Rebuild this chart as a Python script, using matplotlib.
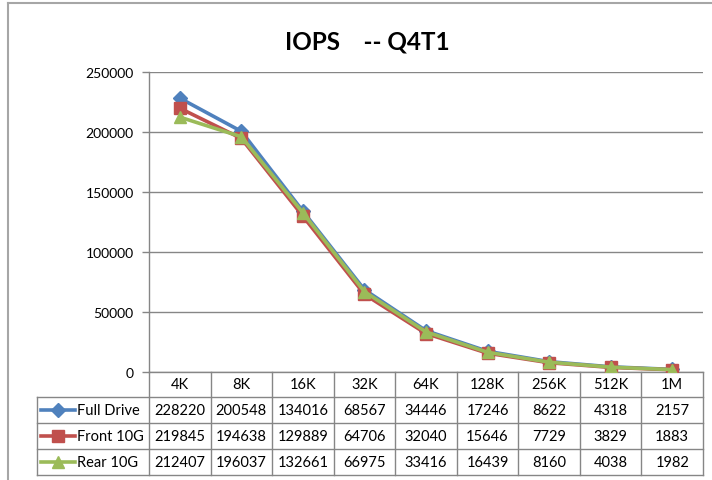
import matplotlib
matplotlib.use('Agg')
import matplotlib.pyplot as plt
from matplotlib.lines import Line2D

sizes = ['4K', '8K', '16K', '32K', '64K', '128K', '256K', '512K', '1M']
full_drive = [228220, 200548, 134016, 68567, 34446, 17246, 8622, 4318, 2157]
front_10g = [219845, 194638, 129889, 64706, 32040, 15646, 7729, 3829, 1883]
rear_10g = [212407, 196037, 132661, 66975, 33416, 16439, 8160, 4038, 1982]
names = ['Full Drive', 'Front 10G', 'Rear 10G']

plt.rcParams['font.family'] = ['Lato', 'DejaVu Sans']

W, H = 712, 481
fig = plt.figure(figsize=(W / 100, H / 100), dpi=100)

def fx(px):
    return px / W

def fy(py):
    return 1 - py / H

left, right, top, bottom = 149, 703, 73, 373
ax = fig.add_axes([fx(left), fy(bottom), fx(right) - fx(left), fy(top) - fy(bottom)])

series = [
    (full_drive, '#4F81BD', 'D', 7),
    (front_10g, '#C0504D', 's', 8),
    (rear_10g, '#9BBB59', '^', 9),
]
x = list(range(len(sizes)))
for vals, col, mk, ms in series:
    ax.plot(x, vals, color=col, lw=2.6, marker=mk, ms=ms, mec=col, mfc=col, zorder=3)

ax.set_xlim(-0.5, len(sizes) - 0.5)
ax.set_ylim(0, 250000)
ax.set_yticks(range(0, 250001, 50000))
ax.set_xticks([])
ax.tick_params(axis='y', length=5, color='#868686', labelsize=10, pad=6, width=1)
ax.grid(axis='y', color='#868686', lw=1)
ax.set_axisbelow(True)
for s in ['top', 'right']:
    ax.spines[s].set_visible(False)
for s in ['left', 'bottom']:
    ax.spines[s].set_color('#868686')
    ax.spines[s].set_linewidth(1)

fig.text(fx(367), fy(42), 'IOPS    -- Q4T1', ha='center', va='center',
         fontsize=17.5, fontweight='bold')

# data table below the axis
gc = '#868686'
rows_y = [373, 398, 424, 450, 476]
col_w = (right - left) / len(sizes)
label_left = 37

def hline(y, x0, x1):
    fig.add_artist(Line2D([fx(x0), fx(x1)], [fy(y), fy(y)], color=gc, lw=1))

def vline(xp, y0, y1):
    fig.add_artist(Line2D([fx(xp), fx(xp)], [fy(y0), fy(y1)], color=gc, lw=1))

for y in rows_y[1:]:
    hline(y, label_left, right)
vline(label_left, rows_y[1], rows_y[-1])
vline(left, rows_y[0], rows_y[-1])
for k in range(1, len(sizes) + 1):
    vline(left + k * col_w, rows_y[0], rows_y[-1])

for k, s in enumerate(sizes):
    cx = left + (k + 0.5) * col_w
    fig.text(fx(cx), fy((rows_y[0] + rows_y[1]) / 2), s, ha='center', va='center', fontsize=10.5)

for r, (vals, col, mk, ms) in enumerate(series):
    cy = (rows_y[r + 1] + rows_y[r + 2]) / 2
    fig.add_artist(Line2D([fx(41), fx(75)], [fy(cy), fy(cy)], color=col, lw=2.6))
    fig.add_artist(Line2D([fx(58)], [fy(cy)], color=col, marker=mk, ms=ms, mec=col, mfc=col))
    fig.text(fx(77), fy(cy), names[r], ha='left', va='center', fontsize=10.5)
    for k, v in enumerate(vals):
        cx = left + (k + 0.5) * col_w
        fig.text(fx(cx), fy(cy), str(v), ha='center', va='center', fontsize=10.5)

# outer chart border
fig.add_artist(Line2D([fx(8), fx(8)], [fy(4), 0], color='#A6A6A6', lw=1.5))
fig.add_artist(Line2D([fx(8), 1], [fy(4), fy(4)], color='#A6A6A6', lw=1.5))

fig.savefig('out.png', dpi=100)
